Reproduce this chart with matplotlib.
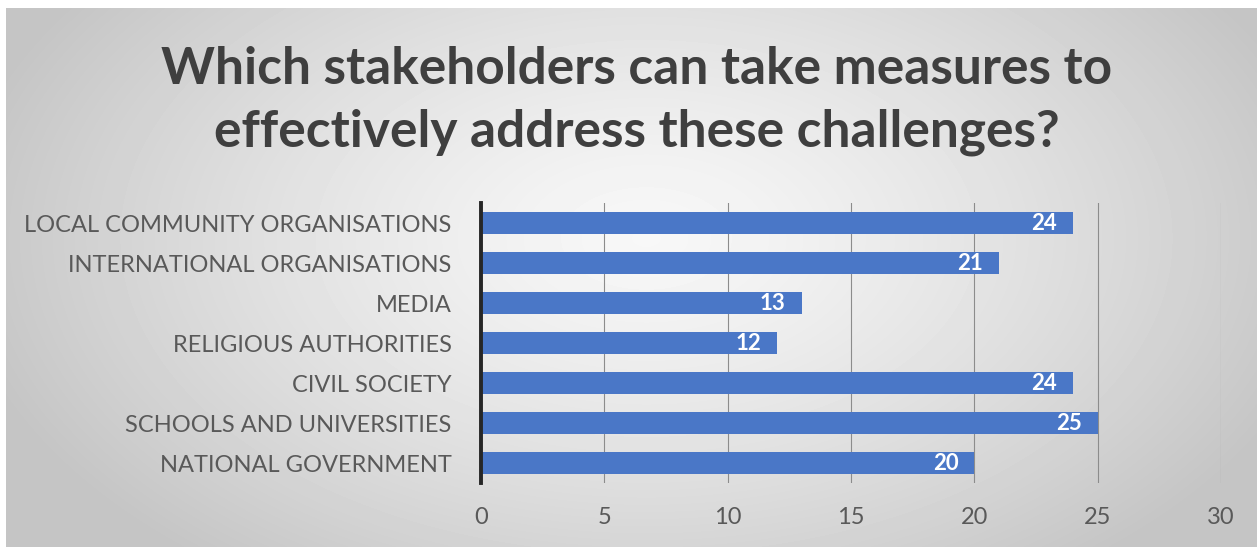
import numpy as np
import matplotlib
matplotlib.use("Agg")
import matplotlib.pyplot as plt

categories = [
    "LOCAL COMMUNITY ORGANISATIONS",
    "INTERNATIONAL ORGANISATIONS",
    "MEDIA",
    "RELIGIOUS AUTHORITIES",
    "CIVIL SOCIETY",
    "SCHOOLS AND UNIVERSITIES",
    "NATIONAL GOVERNMENT",
]
counts = [24, 21, 13, 12, 24, 25, 20]
x_ticks = [0, 5, 10, 15, 20, 25, 30]
title = "Which stakeholders can take measures to\neffectively address these challenges?"

BAR_COLOR = "#4a77c7"
TEXT_COLOR = "#595959"

W, H = 1257, 547
fig = plt.figure(figsize=(W / 100, H / 100), dpi=100)
fig.patch.set_facecolor("white")

# radial grey-to-white backdrop behind the whole chart
bg = fig.add_axes([6 / W, 0, 1 - 6 / W, 1 - 8 / H])
yy, xx = np.mgrid[0:539, 0:1251]
r = np.sqrt(((xx - 640) / 700.0) ** 2 + ((yy - 230) / 420.0) ** 2)
shade = 0.97 - 0.20 * np.clip(r, 0, 1) ** 1.3
bg.imshow(shade, cmap="gray", vmin=0, vmax=1, aspect="auto", interpolation="bilinear")
bg.set_axis_off()

ax = fig.add_axes([481 / W, 64 / H, 740 / W, 280 / H])
ax.set_facecolor("none")

y = np.arange(len(categories))[::-1]
bars = ax.barh(y, counts, height=0.57, color=BAR_COLOR, zorder=3)
for rect, value in zip(bars, counts):
    ax.text(
        rect.get_width() - 0.65,
        rect.get_y() + rect.get_height() / 2,
        str(value),
        ha="right",
        va="center",
        color="white",
        fontsize=16,
        fontweight="bold",
        fontfamily="Lato",
        zorder=4,
    )

ax.set_xlim(0, 30)
ax.set_ylim(-0.5, len(categories) - 0.5)
ax.set_xticks(x_ticks)
ax.set_yticks(y)
ax.set_yticklabels(categories)
ax.tick_params(axis="both", length=0, colors=TEXT_COLOR)
ax.tick_params(axis="y", pad=21, labelsize=17)
ax.tick_params(axis="x", pad=17, labelsize=17)
for lbl in ax.get_xticklabels() + ax.get_yticklabels():
    lbl.set_fontfamily("Lato")

ax.grid(axis="x", color="#8c8c8c", linewidth=0.8, zorder=1)
for side in ("top", "right", "bottom"):
    ax.spines[side].set_visible(False)
ax.spines["left"].set_color("#262626")
ax.spines["left"].set_linewidth(2.8)
ax.spines["left"].set_zorder(5)

fig.text(
    637 / W,
    1 - 101 / H,
    title,
    ha="center",
    va="center",
    fontsize=37,
    fontweight="bold",
    fontfamily="Lato",
    color="#3f3f3f",
    linespacing=1.43,
)

fig.savefig("out.png", dpi=100)
